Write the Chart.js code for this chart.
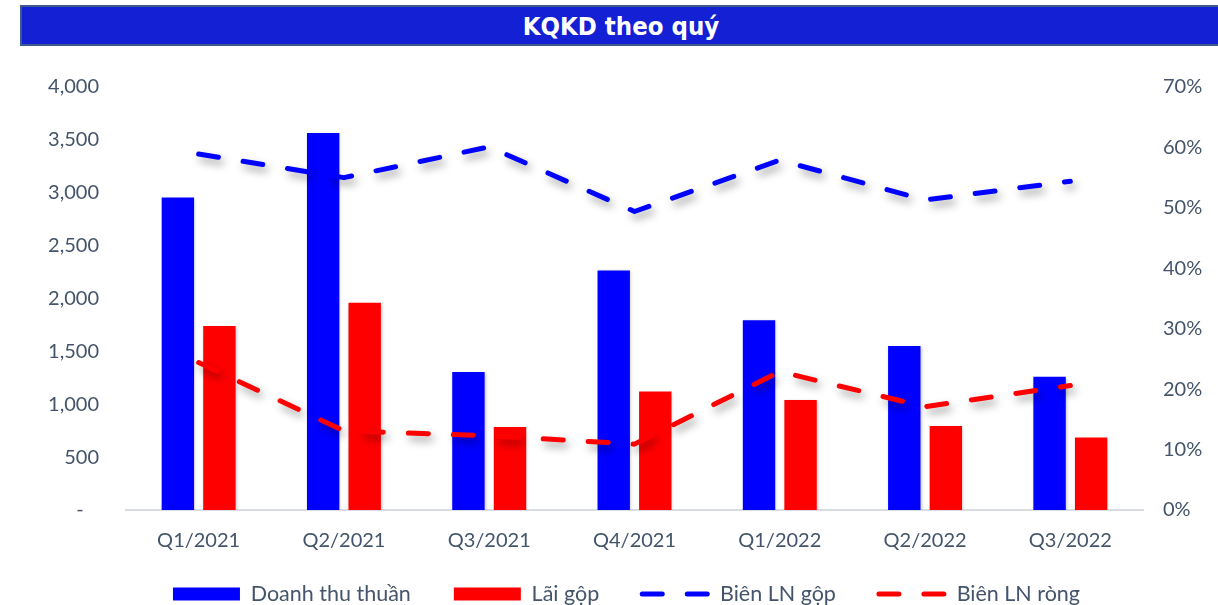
<!DOCTYPE html>
<html>
<head>
<meta charset="utf-8">
<script src="https://cdn.jsdelivr.net/npm/chart.js@4.4.0/dist/chart.umd.min.js"></script>
<style>
	body { margin: 0; background: #fff; }
	#wrap { position: relative; width: 1218px; height: 605px; overflow: hidden; }
	#title {
		position: absolute; left: 20px; top: 5px; width: 1210px; height: 37px;
		background: #1420d4; border: 2px solid #3d5a8c;
		color: #fff; font-family: "DejaVu Sans Condensed", "DejaVu Sans", sans-serif;
		font-weight: bold; font-stretch: condensed; font-size: 25.5px;
		line-height: 38px; text-align: center; text-indent: -12px;
	}
	#chart { position: absolute; left: 0; top: 0; }
</style>
</head>
<body>
<div id="wrap">
	<canvas id="chart" width="1218" height="605"></canvas>
	<div id="title">KQKD theo quý</div>
</div>
<script>
// so lieu doc tu hinh
let quarters = ['Q1/2021', 'Q2/2021', 'Q3/2021', 'Q4/2021', 'Q1/2022', 'Q2/2022', 'Q3/2022']
let doanhThu = [2955, 3565, 1305, 2265, 1795, 1550, 1260]
let laiGop = [1740, 1960, 785, 1120, 1040, 795, 685]
let bienGop = [58.9, 55.0, 60.1, 49.4, 57.9, 51.3, 54.4]
let bienRong = [24.4, 13.1, 12.3, 10.9, 22.9, 17.1, 20.6]
let leftTicks = [0, 500, 1000, 1500, 2000, 2500, 3000, 3500, 4000]
let rightTicks = [0, 10, 20, 30, 40, 50, 60, 70]

let textColor = '#44546a'
let font = { family: 'Lato, "Open Sans", sans-serif', size: 20 }
let legendFont = { family: 'Lato, "Open Sans", sans-serif', size: 21.5 }
let dash = [20, 25]

let shadow = {
	id: 'shadow',
	beforeDatasetDraw: (chart, args) => {
		let ctx = chart.ctx
		let isLine = args.meta.type === 'line'
		ctx.save()
		ctx.shadowColor = isLine ? 'rgba(0,0,0,0.38)' : 'rgba(0,0,0,0.22)'
		ctx.shadowBlur = isLine ? 8 : 3
		ctx.shadowOffsetX = isLine ? 3 : 1
		ctx.shadowOffsetY = isLine ? 5 : 1
	},
	afterDatasetDraw: chart => {
		chart.ctx.restore()
	}
}

// legend sat lai gan truc x
let legendShift = {
	id: 'legendShift',
	afterLayout: chart => {
		chart.legend.top -= 24.75
		chart.legend.bottom -= 24.75
	}
}

let lineSet = (label, data, color) => ({
	type: 'line',
	label: label,
	data: data,
	yAxisID: 'y1',
	borderColor: color,
	backgroundColor: color,
	borderWidth: 5,
	borderDash: dash,
	borderCapStyle: 'round',
	borderJoinStyle: 'round',
	pointRadius: 0,
	tension: 0,
	fill: false,
	order: 1
})

let barSet = (label, data, color) => ({
	type: 'bar',
	label: label,
	data: data,
	yAxisID: 'y',
	backgroundColor: color,
	barPercentage: 0.78,
	categoryPercentage: 0.572,
	order: 2
})

new Chart(document.getElementById('chart'), {
	data: {
		labels: quarters,
		datasets: [
			barSet('Doanh thu thuần', doanhThu, '#0000ff'),
			barSet('Lãi gộp', laiGop, '#ff0000'),
			lineSet('Biên LN gộp', bienGop, '#0000ff'),
			lineSet('Biên LN ròng', bienRong, '#ff0000')
		]
	},
	plugins: [shadow, legendShift],
	options: {
		responsive: false,
		animation: false,
		devicePixelRatio: 1,
		layout: { padding: { left: 35, right: 0, top: 87, bottom: -34.5 } },
		plugins: {
			tooltip: { enabled: false },
			legend: {
				position: 'bottom',
				labels: {
					font: legendFont,
					color: textColor,
					padding: 43,
					usePointStyle: true,
					pointStyleWidth: 67,
					boxHeight: 13,
					generateLabels: chart => chart.data.datasets.map((ds, i) => {
						let isLine = ds.type === 'line'
						return {
							text: ds.label,
							fillStyle: isLine ? 'rgba(0,0,0,0)' : ds.backgroundColor,
							strokeStyle: isLine ? ds.borderColor : 'rgba(0,0,0,0)',
							lineWidth: isLine ? 5 : 0,
							lineDash: isLine ? dash : [],
							lineCap: 'round',
							pointStyle: isLine ? 'line' : 'rect',
							fontColor: textColor,
							hidden: false,
							datasetIndex: i
						}
					})
				}
			}
		},
		scales: {
			x: {
				grid: { display: false, drawTicks: false },
				border: { color: '#d9dde3', width: 2 },
				ticks: { font: font, color: textColor, padding: 19 },
				afterFit: s => { s.height = 55 }
			},
			y: {
				position: 'left',
				min: 0,
				max: 4000,
				afterBuildTicks: s => { s.ticks = leftTicks.map(v => ({ value: v })) },
				grid: { display: false, drawTicks: false },
				border: { display: false },
				ticks: {
					font: font,
					color: textColor,
					padding: 27,
					callback: v => v === 0 ? '-   ' : v.toLocaleString('en-US')
				},
				afterFit: s => { s.width = 91 }
			},
			y1: {
				position: 'right',
				min: 0,
				max: 70,
				afterBuildTicks: s => { s.ticks = rightTicks.map(v => ({ value: v })) },
				grid: { display: false, drawTicks: false },
				border: { display: false },
				ticks: {
					font: font,
					color: textColor,
					padding: 20,
					callback: v => v + '%'
				},
				afterFit: s => { s.width = 75 }
			}
		}
	}
})
</script>
</body>
</html>
